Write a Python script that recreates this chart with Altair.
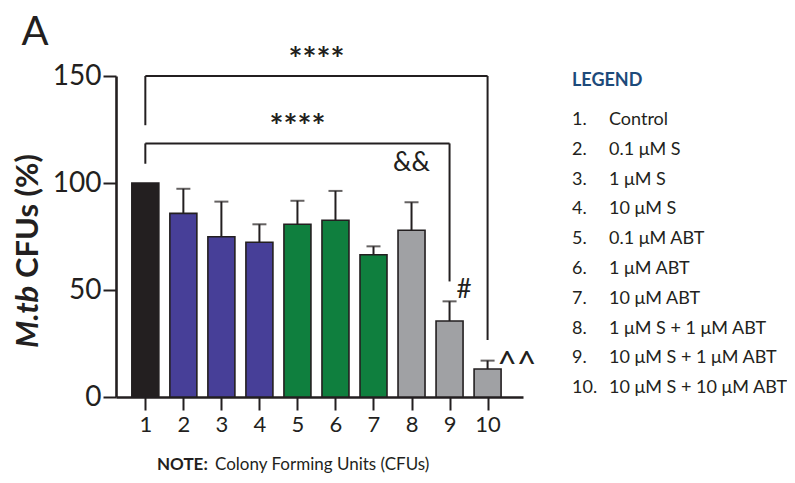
import altair as alt
import pandas as pd

# ---- data ----
groups = [1, 2, 3, 4, 5, 6, 7, 8, 9, 10]
means = [100.0, 85.8, 74.9, 72.3, 80.7, 82.6, 66.5, 77.9, 35.5, 13.1]
sems = [0.0, 11.5, 16.4, 8.4, 11.0, 13.7, 3.9, 13.1, 9.2, 3.9]
bar_colors = ["#231f20", "#473f98", "#473f98", "#473f98", "#0f7f3e",
              "#0f7f3e", "#0f7f3e", "#a0a1a4", "#a0a1a4", "#a0a1a4"]

legend_numbers = ["1.", "2.", "3.", "4.", "5.", "6.", "7.", "8.", "9.", "10."]
legend_labels = ["Control", "0.1 μM S", "1 μM S", "10 μM S", "0.1 μM ABT",
                 "1 μM ABT", "10 μM ABT", "1 μM S + 1 μM ABT",
                 "10 μM S + 1 μM ABT", "10 μM S + 10 μM ABT"]

# significance brackets: from group, to group, bar height, left drop, right drop
br_from = [1, 1]
br_to = [10, 9]
br_level = [150.0, 118.5]
br_left_end = [127.0, 109.0]
br_right_end = [26.6, 54.0]
br_label = ["****", "****"]

# other annotations
ann_text = ["&&", "#"]
ann_x = [8.0, 9.38]
ann_y = [109.5, 50.0]
caret_text = ["^^"]
caret_x = [10.77]
caret_y = [19.0]

FONT = "Lato"
INK = "#231f20"

df = pd.DataFrame({"group": groups, "mean": means, "sem": sems, "color": bar_colors})
df["top"] = df["mean"] + df["sem"]

xscale = alt.Scale(domain=[0.36, 10.8], nice=False, zero=False)
yscale = alt.Scale(domain=[0, 150], nice=False)

base = alt.Chart(df)

bars = base.mark_bar(size=27, stroke=INK, strokeWidth=1.6).encode(
    x=alt.X("group:Q", scale=xscale,
            axis=alt.Axis(values=groups, format="d", title=None, tickSize=13,
                          labelFontSize=22, labelPadding=4)),
    y=alt.Y("mean:Q", scale=yscale,
            axis=alt.Axis(values=[0, 50, 100, 150], title=None, tickSize=13,
                          labelFontSize=28, labelPadding=2)),
    fill=alt.Fill("color:N", scale=None),
)

err = base.transform_filter("datum.sem > 0").mark_rule(color=INK, strokeWidth=2).encode(
    x="group:Q", y="mean:Q", y2="top:Q")
caps = base.transform_filter("datum.sem > 0").mark_tick(
    orient="horizontal", size=14, thickness=2, color=INK).encode(
    x="group:Q", y="top:Q")

bdf = pd.DataFrame({"x1": br_from, "x2": br_to, "lvl": br_level,
                    "le": br_left_end, "re": br_right_end, "lab": br_label})
bdf["mid"] = (bdf["x1"] + bdf["x2"]) / 2
bb = alt.Chart(bdf)
br_h = bb.mark_rule(color=INK, strokeWidth=2).encode(x="x1:Q", x2="x2:Q", y="lvl:Q")
br_l = bb.mark_rule(color=INK, strokeWidth=2).encode(x="x1:Q", y="lvl:Q", y2="le:Q")
br_r = bb.mark_rule(color=INK, strokeWidth=2).encode(x="x2:Q", y="lvl:Q", y2="re:Q")
br_t = bb.mark_text(font=FONT, fontSize=33, fontWeight="bold", color=INK,
                    baseline="bottom", dy=2).encode(x="mid:Q", y="lvl:Q", text="lab:N")

adf = pd.DataFrame({"t": ann_text, "x": ann_x, "y": ann_y})
ann = alt.Chart(adf).mark_text(font=FONT, fontSize=26, color=INK).encode(
    x="x:Q", y="y:Q", text="t:N")
cdf = pd.DataFrame({"t": caret_text, "x": caret_x, "y": caret_y})
carets = alt.Chart(cdf).mark_text(font=FONT, fontSize=34, color=INK, dy=10).encode(
    x="x:Q", y="y:Q", text="t:N")

# panel letter and y-title pieces
one = pd.DataFrame({"k": [0]})
panel = alt.Chart(one).mark_text(text="A", font=FONT, fontSize=40, color=INK,
                                 align="center", baseline="middle").encode(
    x=alt.value(-81), y=alt.value(-43))
ttl1 = alt.Chart(one).mark_text(text="M.tb", font=FONT, fontSize=31, fontWeight="bold",
                                fontStyle="italic", color=INK, angle=270,
                                align="left", baseline="middle").encode(
    x=alt.value(-87), y=alt.value(272))
ttl2 = alt.Chart(one).mark_text(text="CFUs (%)", font=FONT, fontSize=31, fontWeight="bold",
                                color=INK, angle=270, align="left",
                                baseline="middle").encode(
    x=alt.value(-87), y=alt.value(202))

# legend block
ldf = pd.DataFrame({"num": legend_numbers, "lab": legend_labels, "i": list(range(10))})
lg = alt.Chart(ldf).transform_calculate(py="44 + datum.i * 29.8")
lg_num = lg.mark_text(font=FONT, fontSize=18, color=INK, align="left",
                      baseline="middle").encode(
    x=alt.value(456), y=alt.Y("py:Q", scale=None), text="num:N")
lg_lab = lg.mark_text(font=FONT, fontSize=18, color=INK, align="left",
                      baseline="middle").encode(
    x=alt.value(493), y=alt.Y("py:Q", scale=None), text="lab:N")
lg_head = alt.Chart(one).mark_text(text="LEGEND", font=FONT, fontSize=18,
                                   fontWeight="bold", color="#1d4a7a",
                                   align="left", baseline="middle").encode(
    x=alt.value(456), y=alt.value(5))

note1 = alt.Chart(one).mark_text(text="NOTE:", font=FONT, fontSize=17, fontWeight="bold",
                                 color=INK, align="left", baseline="middle").encode(
    x=alt.value(41), y=alt.value(389))
note2 = alt.Chart(one).mark_text(text="Colony Forming Units (CFUs)", font=FONT,
                                 fontSize=17, color=INK, align="left",
                                 baseline="middle").encode(
    x=alt.value(99), y=alt.value(389))

chart = alt.layer(
    br_h, br_l, br_r, br_t, err, caps, bars, ann, carets, panel, ttl1, ttl2,
    lg_head, lg_num, lg_lab, note1, note2
).properties(
    width=407, height=321,
    autosize=alt.AutoSizeParams(type="none"),
    padding={"left": 108, "top": 68, "right": 264, "bottom": 76},
).configure_view(stroke=None).configure_axis(
    grid=False, domainColor=INK, domainWidth=2.6, tickColor=INK, tickWidth=2,
    labelColor=INK, labelFont=FONT,
)

chart.save("out.html", embed_options={"renderer": "svg", "actions": False})
